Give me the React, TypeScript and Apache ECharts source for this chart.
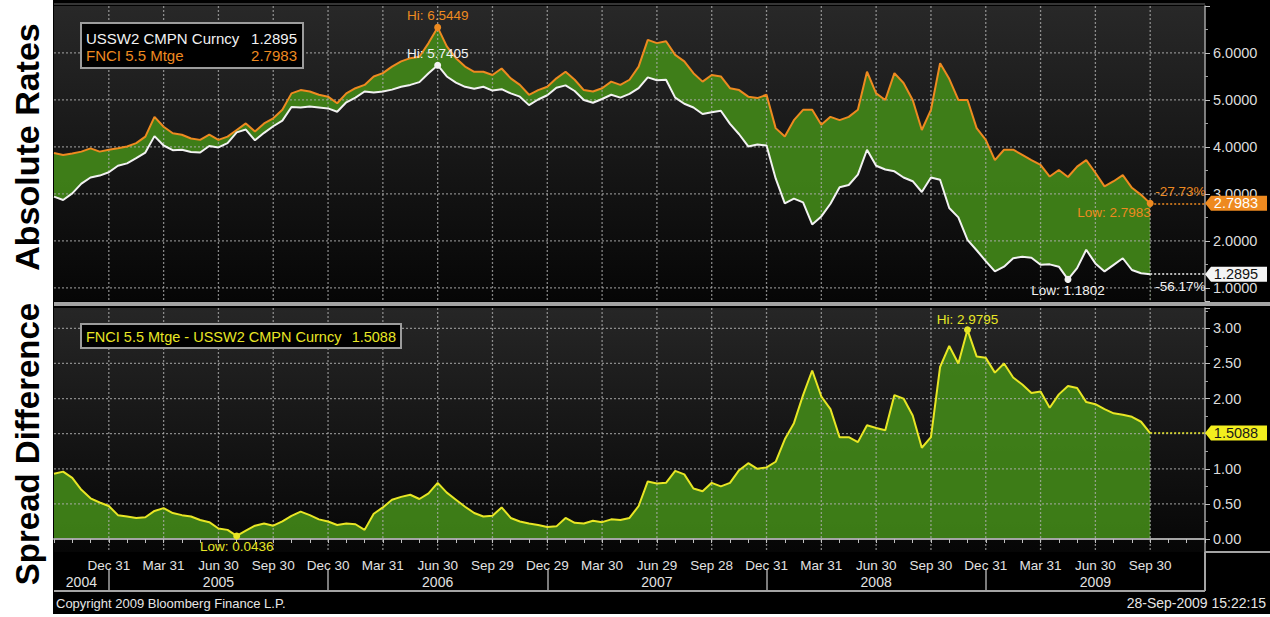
import React, { useEffect, useRef } from "react";
import * as echarts from "echarts";

// ---- categories (semi-monthly sampling; quarter ends are Bloomberg business dates) ----
const DATES = [
  "2004-09-30","2004-10-15","2004-10-31","2004-11-15","2004-11-30","2004-12-15","2004-12-31",
  "2005-01-15","2005-01-31","2005-02-15","2005-02-28","2005-03-15","2005-03-31","2005-04-15","2005-04-30","2005-05-15","2005-05-31","2005-06-15","2005-06-30","2005-07-15","2005-07-31","2005-08-15","2005-08-31","2005-09-15","2005-09-30","2005-10-15","2005-10-31","2005-11-15","2005-11-30","2005-12-15","2005-12-30",
  "2006-01-15","2006-01-31","2006-02-15","2006-02-28","2006-03-15","2006-03-31","2006-04-15","2006-04-30","2006-05-15","2006-05-31","2006-06-15","2006-06-30","2006-07-15","2006-07-31","2006-08-15","2006-08-31","2006-09-15","2006-09-29","2006-10-15","2006-10-31","2006-11-15","2006-11-30","2006-12-15","2006-12-29",
  "2007-01-15","2007-01-31","2007-02-15","2007-02-28","2007-03-15","2007-03-30","2007-04-15","2007-04-30","2007-05-15","2007-05-31","2007-06-15","2007-06-29","2007-07-15","2007-07-31","2007-08-15","2007-08-31","2007-09-15","2007-09-28","2007-10-15","2007-10-31","2007-11-15","2007-11-30","2007-12-15","2007-12-31",
  "2008-01-15","2008-01-31","2008-02-15","2008-02-29","2008-03-15","2008-03-31","2008-04-15","2008-04-30","2008-05-15","2008-05-31","2008-06-15","2008-06-30","2008-07-15","2008-07-31","2008-08-15","2008-08-31","2008-09-15","2008-09-30","2008-10-15","2008-10-31","2008-11-15","2008-11-30","2008-12-15","2008-12-31",
  "2009-01-15","2009-01-31","2009-02-15","2009-02-28","2009-03-15","2009-03-31","2009-04-15","2009-04-30","2009-05-15","2009-05-31","2009-06-15","2009-06-30","2009-07-15","2009-07-31","2009-08-15","2009-08-31","2009-09-15","2009-09-30","2009-10-15","2009-10-31","2009-11-15","2009-11-30","2009-12-15","2009-12-31",
];

const QUARTER_ENDS = [
  "2004-12-31","2005-03-31","2005-06-30","2005-09-30","2005-12-30","2006-03-31","2006-06-30","2006-09-29",
  "2006-12-29","2007-03-30","2007-06-29","2007-09-28","2007-12-31","2008-03-31","2008-06-30","2008-09-30",
  "2008-12-31","2009-03-31","2009-06-30","2009-09-30",
];
const YEAR_ENDS = ["2004-12-31","2005-12-30","2006-12-29","2007-12-31","2008-12-31"];
const YEAR_LABEL_DATES = ["2004-11-15","2005-06-30","2006-06-30","2007-06-29","2008-06-30","2009-06-30"];
const YEAR_LABELS = ["2004","2005","2006","2007","2008","2009"];
const MONTHS = ["Jan","Feb","Mar","Apr","May","Jun","Jul","Aug","Sep","Oct","Nov","Dec"];
const TOP_LEVELS = [1, 2, 3, 4, 5, 6];
const BOTTOM_LEVELS = [0, 0.5, 1, 1.5, 2, 2.5, 3];

// ---- series values ----
const FNCI = [
  3.872, 3.83, 3.86, 3.90, 3.97, 3.90, 3.94, 3.97, 4.01, 4.08,
  4.22, 4.64, 4.43, 4.29, 4.26, 4.18, 4.15, 4.26, 4.15, 4.22,
  4.36, 4.50, 4.33, 4.50, 4.61, 4.79, 5.14, 5.21, 5.18, 5.11,
  5.07, 4.93, 5.14, 5.25, 5.32, 5.50, 5.57, 5.71, 5.82, 5.89,
  5.92, 6.21, 6.5449, 6.14, 5.89, 5.71, 5.60, 5.60, 5.53, 5.67,
  5.46, 5.32, 5.11, 5.21, 5.28, 5.46, 5.60, 5.43, 5.21, 5.18,
  5.25, 5.39, 5.32, 5.43, 5.71, 6.28, 6.21, 6.25, 5.96, 5.82,
  5.57, 5.39, 5.53, 5.50, 5.25, 5.21, 5.07, 5.04, 5.11, 4.40,
  4.22, 4.57, 4.79, 4.79, 4.47, 4.64, 4.57, 4.64, 4.79, 5.60,
  5.14, 5.00, 5.57, 5.36, 5.00, 4.36, 4.79, 5.78, 5.45, 5.00,
  5.00, 4.40, 4.15, 3.72, 3.94, 3.94, 3.83, 3.72, 3.62, 3.37,
  3.51, 3.36, 3.58, 3.72, 3.45, 3.16, 3.27, 3.40, 3.13, 2.98,
  2.7983,
];
const USSW2 = [
  2.942, 2.87, 3.01, 3.22, 3.35, 3.39, 3.46, 3.60, 3.65, 3.76,
  3.88, 4.23, 4.03, 3.93, 3.94, 3.89, 3.88, 4.02, 3.99, 4.08,
  4.31, 4.37, 4.14, 4.30, 4.44, 4.56, 4.85, 4.84, 4.86, 4.84,
  4.82, 4.75, 4.95, 5.05, 5.18, 5.16, 5.18, 5.22, 5.28, 5.32,
  5.38, 5.57, 5.7405, 5.50, 5.37, 5.28, 5.24, 5.28, 5.20, 5.23,
  5.14, 5.07, 4.89, 5.01, 5.10, 5.26, 5.31, 5.19, 5.00, 4.94,
  5.02, 5.11, 5.05, 5.13, 5.25, 5.48, 5.42, 5.43, 5.05, 4.92,
  4.84, 4.70, 4.74, 4.77, 4.49, 4.27, 4.01, 4.05, 4.03, 3.33,
  2.80, 2.90, 2.82, 2.35, 2.52, 2.79, 3.14, 3.19, 3.41, 3.94,
  3.60, 3.52, 3.48, 3.35, 3.27, 3.04, 3.35, 3.30, 2.70, 2.50,
  2.02, 1.80, 1.57, 1.35, 1.45, 1.63, 1.66, 1.64, 1.49, 1.50,
  1.45, 1.1802, 1.42, 1.81, 1.52, 1.35, 1.49, 1.63, 1.38, 1.31,
  1.2895,
];
const SPREAD = [
  0.93, 0.96, 0.87, 0.70, 0.58, 0.52, 0.47, 0.34, 0.32, 0.30,
  0.31, 0.40, 0.44, 0.37, 0.34, 0.32, 0.27, 0.24, 0.15, 0.13,
  0.0436, 0.12, 0.19, 0.22, 0.19, 0.25, 0.33, 0.39, 0.34, 0.28,
  0.25, 0.20, 0.22, 0.21, 0.13, 0.36, 0.45, 0.56, 0.60, 0.63,
  0.57, 0.65, 0.80, 0.66, 0.56, 0.46, 0.37, 0.32, 0.33, 0.45,
  0.30, 0.25, 0.22, 0.20, 0.17, 0.18, 0.30, 0.23, 0.22, 0.26,
  0.24, 0.28, 0.27, 0.30, 0.47, 0.82, 0.79, 0.80, 0.97, 0.92,
  0.72, 0.68, 0.80, 0.75, 0.80, 0.98, 1.08, 1.00, 1.02, 1.10,
  1.42, 1.65, 2.05, 2.40, 2.03, 1.85, 1.45, 1.45, 1.38, 1.62,
  1.58, 1.55, 2.05, 2.00, 1.76, 1.30, 1.45, 2.45, 2.75, 2.50,
  2.9795, 2.60, 2.58, 2.37, 2.50, 2.30, 2.20, 2.08, 2.10, 1.87,
  2.06, 2.18, 2.15, 1.95, 1.92, 1.85, 1.79, 1.77, 1.74, 1.67,
  1.5088,
];

const FONT = 'Arial, "Liberation Sans", sans-serif';
const ORANGE = "#ee8a20";
const WHITE = "#f2f2f2";
const YELLOW = "#e8e625";
const GREEN = "rgba(66,136,24,0.9)";
const GRID_LINE = "rgba(175,175,175,0.75)";
const FRAME = "#a4a4a4";
const TAG = "path://M0,7L6,0L62,0L62,14L6,14Z";

const pad = (a: number[]) => [...a, ...Array(DATES.length - a.length).fill(null)];
const last = (a: number[]) => a[a.length - 1];
const pct = (a: number[]) => ((last(a) / a[0] - 1) * 100).toFixed(2) + "%";
const fmtDate = (v: string) => {
  const p = v.split("-");
  return MONTHS[Number(p[1]) - 1] + " " + Number(p[2]);
};

export default function App() {
  const ref = useRef<HTMLDivElement>(null);

  useEffect(() => {
    if (!ref.current) return;
    const chart = echarts.init(ref.current, null, { renderer: "svg" });

    const LAST_DATE = DATES[FNCI.length - 1];
    const END_DATE = DATES[DATES.length - 1];
    const isQuarter = (_i: number, v: string) => QUARTER_ENDS.indexOf(v) >= 0;

    const stops = (top: string, bottom: string) => [
      { offset: 0, color: top },
      { offset: 1, color: bottom },
    ];
    const bgTopGlobal = new echarts.graphic.LinearGradient(0, 6, 0, 301, stops("#282828", "#060606"), true);
    const bgBottomGlobal = new echarts.graphic.LinearGradient(0, 308, 0, 552, stops("#262626", "#060606"), true);

    const lbl = (color: string, size = 13.5) => ({ color, fontSize: size, fontFamily: FONT });

    // dotted grid: a custom series placing each line through the panel's own axes
    const gridSeries = (axisIndex: number, levels: number[]) => ({
      type: "custom",
      xAxisIndex: axisIndex,
      yAxisIndex: axisIndex,
      z: 3,
      silent: true,
      clip: false,
      dimensions: ["x", "y", "kind"],
      encode: { x: 0, y: 1 },
      data: [
        ...QUARTER_ENDS.map((d) => [d, levels[0], 0]),
        ...levels.map((v) => [DATES[0], v, 1]),
      ],
      renderItem: (params: any, api: any) => {
        const cs = params.coordSys;
        const p = api.coord([api.value(0), api.value(1)]);
        const vertical = api.value(2) === 0;
        return {
          type: "line",
          shape: vertical
            ? { x1: p[0], y1: cs.y, x2: p[0], y2: cs.y + cs.height }
            : { x1: cs.x, y1: p[1], x2: cs.x + cs.width, y2: p[1] },
          style: { stroke: GRID_LINE, lineWidth: 1.3, lineDash: [2, 2], fill: null },
        };
      },
    });

    const tagPoint = (arr: number[], fill: string, textColor: string) => ({
      coord: [END_DATE, last(arr)],
      value: last(arr),
      symbol: TAG,
      symbolSize: [62, 15],
      symbolOffset: [31, 0],
      itemStyle: { color: fill },
      label: { show: true, position: "inside", formatter: last(arr).toFixed(4), ...lbl(textColor, 14.5) },
    });

    const hiLo = (color: string, hiPos: any, loPos: any) => [
      {
        type: "max",
        itemStyle: { color },
        label: { show: true, ...hiPos, ...lbl(color), formatter: (p: any) => "Hi: " + Number(p.value).toFixed(4) },
      },
      {
        type: "min",
        itemStyle: { color },
        label: { show: true, ...loPos, ...lbl(color), formatter: (p: any) => "Low: " + Number(p.value).toFixed(4) },
      },
    ];

    const txt = (x: number, y: number, text: string, fill: string, size: number, align = "left", extra: any = {}) => ({
      type: "text", silent: true, z: 11, x, y, rotation: extra.rotation || 0,
      style: {
        text, fill, fontSize: size, fontFamily: FONT, fontWeight: extra.bold ? "bold" : "normal",
        align, verticalAlign: "middle", textAlign: align, textVerticalAlign: "middle",
      },
    });

    const option: any = {
      animation: false,
      backgroundColor: "#000",
      grid: [
        { left: 54, top: 6, width: 1151, height: 295, show: false, outerBoundsMode: "none" },
        { left: 54, top: 308, width: 1151, height: 244, show: false, outerBoundsMode: "none" },
      ],
      xAxis: [
        {
          type: "category", gridIndex: 0, data: DATES, boundaryGap: false, z: 3,
          axisLine: { show: false }, axisTick: { show: false }, axisLabel: { show: false },
          splitLine: { show: false },
        },
        {
          type: "category", gridIndex: 1, data: DATES, boundaryGap: false, position: "bottom", z: 3,
          axisLine: { show: true, lineStyle: { color: FRAME, width: 2 } },
          axisTick: { show: true, interval: (i: number) => i % 2 === 0, length: 4, lineStyle: { color: "#c0c0c0" } },
          axisLabel: { interval: isQuarter, formatter: fmtDate, margin: 6, ...lbl("#e2e2e2", 13.5) },
          splitLine: { show: false },
        },
        {
          type: "category", gridIndex: 1, data: DATES, boundaryGap: false, position: "bottom", offset: 18, z: 3,
          axisLine: { show: false },
          axisTick: {
            show: true, length: 21,
            interval: (_i: number, v: string) => YEAR_ENDS.indexOf(v) >= 0,
            lineStyle: { color: FRAME, width: 1.5 },
          },
          axisLabel: {
            interval: (_i: number, v: string) => YEAR_LABEL_DATES.indexOf(v) >= 0,
            formatter: (v: string) => {
              const k = YEAR_LABEL_DATES.indexOf(v);
              return k >= 0 ? YEAR_LABELS[k] : "";
            },
            margin: 5,
            ...lbl("#e2e2e2", 14),
          },
          splitLine: { show: false },
        },
      ],
      yAxis: [
        {
          type: "value", gridIndex: 0, position: "right", min: 0.72, max: 7, z: 3,
          axisLine: { show: true, lineStyle: { color: FRAME, width: 1.5 } },
          axisTick: { show: true, length: 5, lineStyle: { color: "#c0c0c0" } },
          minorTick: { show: true, splitNumber: 2, length: 3, lineStyle: { color: "#a0a0a0" } },
          axisLabel: {
            margin: 8,
            ...lbl("#dcdcdc", 14.5),
            formatter: (v: number) =>
              v >= 0.99 && v <= 6.01 && Math.abs(v - Math.round(v)) < 1e-6 ? v.toFixed(4) : "",
          },
          splitLine: { show: false },
        },
        {
          type: "value", gridIndex: 1, position: "right", min: -0.185, max: 3.29, z: 3,
          axisLine: { show: true, lineStyle: { color: FRAME, width: 1.5 } },
          axisTick: { show: true, length: 5, lineStyle: { color: "#c0c0c0" } },
          minorTick: { show: true, splitNumber: 2, length: 3, lineStyle: { color: "#a0a0a0" } },
          axisLabel: {
            margin: 8,
            ...lbl("#dcdcdc", 14.5),
            // the 1.50 label sits under the last-value tag in the reference
            formatter: (v: number) =>
              v >= -0.001 && v <= 3.001 && Math.abs(v * 2 - Math.round(v * 2)) < 1e-6 && Math.abs(v - 1.5) > 1e-6
                ? v.toFixed(2)
                : "",
          },
          splitLine: { show: false },
        },
      ],
      series: [
        // green band: FNCI filled to the bottom, then USSW2 covers the region below it with the panel background
        {
          type: "line", xAxisIndex: 0, yAxisIndex: 0, data: pad(FNCI), symbol: "none", silent: true, z: 1,
          lineStyle: { width: 0, color: "transparent" }, areaStyle: { color: GREEN, opacity: 1, origin: "start" },
        },
        {
          type: "line", xAxisIndex: 0, yAxisIndex: 0, data: pad(USSW2), symbol: "none", silent: true, z: 2,
          lineStyle: { width: 0, color: "transparent" }, areaStyle: { color: bgTopGlobal, opacity: 1, origin: "start" },
        },
        gridSeries(0, TOP_LEVELS),
        gridSeries(1, BOTTOM_LEVELS),
        {
          name: "FNCI 5.5 Mtge", type: "line", xAxisIndex: 0, yAxisIndex: 0, data: pad(FNCI), symbol: "none", z: 4,
          lineStyle: { color: ORANGE, width: 2 }, itemStyle: { color: ORANGE },
          markPoint: {
            symbol: "circle", symbolSize: 7, silent: true, animation: false,
            data: [
              ...hiLo(ORANGE, { position: "top", distance: 1 }, { position: "left", distance: 0, offset: [4, 9] }),
              tagPoint(FNCI, ORANGE, "#ffffff"),
            ],
          },
          markLine: {
            silent: true, symbol: ["none", "none"], animation: false,
            lineStyle: { color: ORANGE, type: [2, 2], width: 1.5 },
            label: { show: true, position: "insideStartTop", formatter: pct(FNCI), ...lbl(ORANGE) },
            data: [[{ coord: [LAST_DATE, last(FNCI)] }, { coord: [END_DATE, last(FNCI)] }]],
          },
        },
        {
          name: "USSW2 CMPN Curncy", type: "line", xAxisIndex: 0, yAxisIndex: 0, data: pad(USSW2), symbol: "none", z: 4,
          lineStyle: { color: WHITE, width: 2 }, itemStyle: { color: WHITE },
          markPoint: {
            symbol: "circle", symbolSize: 7, silent: true, animation: false,
            data: [
              ...hiLo(WHITE, { position: "top", distance: 1 }, { position: "bottom", distance: 1 }),
              tagPoint(USSW2, "#f4f4f4", "#111111"),
            ],
          },
          markLine: {
            silent: true, symbol: ["none", "none"], animation: false,
            lineStyle: { color: WHITE, type: [2, 2], width: 1.5 },
            label: { show: true, position: "insideStartBottom", formatter: pct(USSW2), ...lbl(WHITE) },
            data: [[{ coord: [LAST_DATE, last(USSW2)] }, { coord: [END_DATE, last(USSW2)] }]],
          },
        },
        // spread panel
        {
          type: "line", xAxisIndex: 1, yAxisIndex: 1, data: pad(SPREAD), symbol: "none", silent: true, z: 1,
          lineStyle: { width: 0, color: "transparent" }, areaStyle: { color: GREEN, opacity: 1 },
        },
        {
          name: "FNCI 5.5 Mtge - USSW2 CMPN Curncy", type: "line", xAxisIndex: 1, yAxisIndex: 1, data: pad(SPREAD),
          symbol: "none", z: 4, lineStyle: { color: YELLOW, width: 2 }, itemStyle: { color: YELLOW },
          markPoint: {
            symbol: "circle", symbolSize: 7, silent: true, animation: false,
            data: [
              ...hiLo(YELLOW, { position: "top", distance: 0 }, { position: "bottom", distance: 0 }),
              tagPoint(SPREAD, "#f3ee1e", "#1a1a1a"),
            ],
          },
          markLine: {
            silent: true, symbol: ["none", "none"], animation: false,
            lineStyle: { color: YELLOW, type: [2, 2], width: 1.5 },
            label: { show: false },
            data: [[{ coord: [LAST_DATE, last(SPREAD)] }, { coord: [END_DATE, last(SPREAD)] }]],
          },
        },
      ],
      graphic: [
        // panel backgrounds (kept below axes and series)
        { type: "rect", silent: true, z: -10, shape: { x: 54, y: 6, width: 1151, height: 295 }, style: { fill: bgTopGlobal } },
        { type: "rect", silent: true, z: -10, shape: { x: 54, y: 308, width: 1151, height: 244 }, style: { fill: bgBottomGlobal } },
        { type: "rect", silent: true, z: 0, shape: { x: 0, y: 0, width: 53, height: 617 }, style: { fill: "#ffffff" } },
        { type: "rect", silent: true, z: 0, shape: { x: 0, y: 614, width: 1270, height: 3 }, style: { fill: "#ffffff" } },
        { type: "line", silent: true, z: 5, shape: { x1: 54, y1: 4, x2: 1205, y2: 4 }, style: { stroke: "#6a6a6a", lineWidth: 1 } },
        { type: "rect", silent: true, z: 5, shape: { x: 54, y: 302, width: 1216, height: 4 }, style: { fill: FRAME } },
        { type: "line", silent: true, z: 5, shape: { x1: 1205, y1: 552, x2: 1270, y2: 552 }, style: { stroke: FRAME, lineWidth: 2 } },
        { type: "line", silent: true, z: 5, shape: { x1: 1205, y1: 552, x2: 1205, y2: 591 }, style: { stroke: FRAME, lineWidth: 2 } },
        { type: "line", silent: true, z: 5, shape: { x1: 54, y1: 591, x2: 1205, y2: 591 }, style: { stroke: FRAME, lineWidth: 2 } },
        // legend box, top panel
        { type: "rect", silent: true, z: 10, shape: { x: 81, y: 23, width: 222, height: 45 }, style: { fill: "#000", stroke: "#9c9c9c", lineWidth: 2 } },
        txt(86, 38.5, "USSW2 CMPN Curncy", WHITE, 15),
        txt(297, 38.5, last(USSW2).toFixed(4), WHITE, 15, "right"),
        txt(86, 55, "FNCI 5.5 Mtge", ORANGE, 15),
        txt(297, 55, last(FNCI).toFixed(4), ORANGE, 15, "right"),
        // legend box, bottom panel
        { type: "rect", silent: true, z: 10, shape: { x: 81, y: 324, width: 320, height: 24 }, style: { fill: "#000", stroke: "#9c9c9c", lineWidth: 2 } },
        txt(86, 336.5, "FNCI 5.5 Mtge - USSW2 CMPN Curncy", YELLOW, 14.5),
        txt(396, 336.5, last(SPREAD).toFixed(4), YELLOW, 14.5, "right"),
        // footer
        txt(56, 603.5, "Copyright 2009 Bloomberg Finance L.P.", "#e6e6e6", 13),
        txt(1266, 603, "28-Sep-2009 15:22:15", "#e6e6e6", 14, "right"),
        // vertical panel titles
        txt(27, 147, "Absolute Rates", "#000", 34, "center", { rotation: Math.PI / 2, bold: true }),
        txt(27, 444, "Spread Difference", "#000", 33, "center", { rotation: Math.PI / 2, bold: true }),
      ],
    };

    chart.setOption(option);
    return () => chart.dispose();
  }, []);

  return (
    <div
      ref={ref}
      style={{ position: "absolute", left: 0, top: 0, width: 1270, height: 617 }}
    />
  );
}
